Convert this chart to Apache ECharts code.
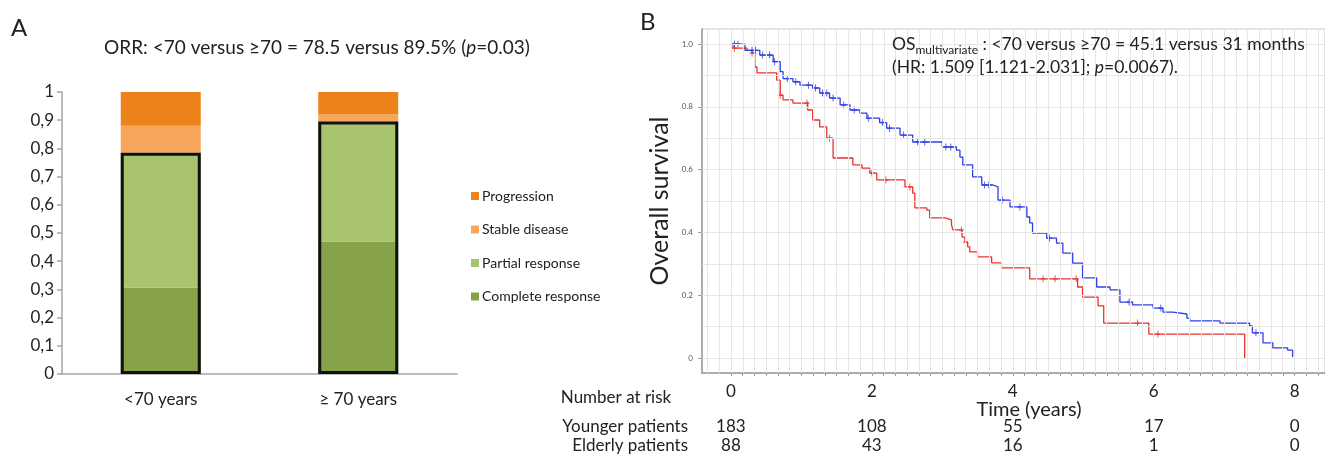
<!DOCTYPE html>
<html>
<head>
<meta charset="utf-8">
<script src="https://cdn.jsdelivr.net/npm/echarts@6/dist/echarts.min.js"></script>
<style>
html, body { margin: 0; padding: 0; background: #fff; }
#main { width: 1325px; height: 455px; }
</style>
</head>
<body>
<div id="main"></div>
<script>
const FONT = 'Lato';

// Panel A: response by age group (stacked proportions)
const groups = ['<70 years', '≥ 70 years'];
const complete = [0.307, 0.470];
const partial = [0.478, 0.425];
const stable = [0.095, 0.025];
const progression = [0.120, 0.080];

// Panel B: Kaplan-Meier overall survival (time in years)
const youngerT = [0, 0.2, 0.41, 0.6, 0.7, 0.74, 0.88, 0.98, 1.16, 1.26, 1.4, 1.55, 1.69, 1.83, 1.93, 2.11, 2.21, 2.4, 2.58, 3.0, 3.2, 3.25, 3.29, 3.43, 3.56, 3.72, 3.79, 3.96, 4.2, 4.24, 4.28, 4.48, 4.62, 4.71, 4.85, 4.99, 5.19, 5.38, 5.52, 5.7, 5.99, 6.13, 6.27, 6.47, 6.51, 6.94, 7.36, 7.4, 7.55, 7.69, 7.9, 7.97];
const youngerS = [1.0, 0.98, 0.965, 0.944, 0.912, 0.89, 0.88, 0.869, 0.86, 0.844, 0.828, 0.806, 0.79, 0.78, 0.764, 0.75, 0.732, 0.71, 0.688, 0.672, 0.662, 0.64, 0.615, 0.577, 0.551, 0.545, 0.503, 0.481, 0.449, 0.43, 0.398, 0.382, 0.366, 0.334, 0.302, 0.255, 0.226, 0.217, 0.178, 0.169, 0.159, 0.146, 0.14, 0.127, 0.118, 0.111, 0.102, 0.08, 0.048, 0.032, 0.025, 0.003];
const elderlyT = [0, 0.03, 0.23, 0.3, 0.34, 0.37, 0.65, 0.7, 0.74, 0.88, 1.09, 1.16, 1.26, 1.36, 1.45, 1.73, 1.86, 1.97, 2.07, 2.47, 2.58, 2.61, 2.78, 2.82, 3.04, 3.13, 3.15, 3.28, 3.32, 3.36, 3.39, 3.5, 3.7, 3.84, 4.24, 4.92, 4.99, 5.21, 5.29, 5.93, 7.29];
const elderlyS = [1.0, 0.987, 0.98, 0.971, 0.927, 0.908, 0.885, 0.837, 0.822, 0.812, 0.79, 0.758, 0.736, 0.70, 0.637, 0.615, 0.605, 0.589, 0.567, 0.545, 0.525, 0.478, 0.471, 0.446, 0.44, 0.424, 0.408, 0.385, 0.369, 0.354, 0.338, 0.322, 0.303, 0.287, 0.252, 0.226, 0.194, 0.166, 0.111, 0.076, 0.0];
const youngerCensor = [0.05, 0.1, 0.3, 0.35, 0.45, 0.55, 0.62, 0.8, 0.92, 1.1, 1.2, 1.3, 1.36, 1.45, 1.6, 1.75, 1.95, 2.15, 2.25, 2.45, 2.65, 2.75, 3.05, 3.12, 3.6, 3.66, 3.85, 4.1, 4.52, 5.65, 6.1, 7.45];
const elderlyCensor = [0.05, 0.3, 0.7, 1.08, 1.4, 2.0, 2.2, 2.54, 3.27, 3.33, 4.43, 4.6, 4.9, 5.77, 6.06];

// axis ticks and risk table
const yTicksB = [0, 0.2, 0.4, 0.6, 0.8, 1.0];
const xTicksB = [0, 2, 4, 6, 8];
const riskTimes = [0, 2, 4, 6, 8];
const youngerRisk = [183, 108, 55, 17, 0];
const elderlyRisk = [88, 43, 16, 1, 0];

const minorX = Array.from({ length: 51 }, (_, k) => k / 6);
const gridX = Array.from({ length: 53 }, (_, k) => (k - 2) / 6);
const gridY = Array.from({ length: 11 }, (_, k) => k / 10);

function pairs(ts, ss) { return ts.map((t, i) => [t, ss[i]]); }
function survAt(ts, ss, t) {
    let s = ss[0];
    for (let i = 0; i < ts.length; i++) if (ts[i] <= t) s = ss[i];
    return s;
}

const plus = 'path://M4,0H6V4H10V6H6V10H4V6H0V4H4Z';
const RED = '#e8332e';
const BLUE = '#2f3fe4';

const chart = echarts.init(document.getElementById('main'));

const barCommon = { type: 'bar', stack: 'resp', xAxisIndex: 0, yAxisIndex: 0, barWidth: 80, barGap: '-100%' };

chart.setOption({
    animation: false,
    textStyle: { fontFamily: FONT },
    grid: [
        { left: 62, top: 92, width: 395, height: 282 },
        { left: 702, top: 29, right: 0, bottom: 82, show: true, borderColor: '#c8c8c8', borderWidth: 1 }
    ],
    legend: {
        data: ['Progression', 'Stable disease', 'Partial response', 'Complete response'],
        orient: 'vertical', left: 466, top: 184, itemWidth: 8, itemHeight: 8, itemGap: 19.5, icon: 'rect',
        textStyle: { fontSize: 14, color: '#222', fontFamily: FONT, padding: [0, 0, 0, -2] }
    },
    xAxis: [
        {
            type: 'category', gridIndex: 0, data: groups,
            axisLine: { lineStyle: { color: '#a6a6a6', width: 1.5 } },
            axisTick: { length: 6, lineStyle: { color: '#a6a6a6', width: 1.5 } },
            axisLabel: { fontSize: 17, color: '#222', margin: 17, fontFamily: FONT }
        },
        {
            type: 'value', gridIndex: 1, min: -0.41, max: 8.43,
            axisLine: { onZero: false, lineStyle: { color: '#999', width: 1.5 } },
            axisTick: { customValues: minorX, length: 3, lineStyle: { color: '#999' } },
            axisLabel: { customValues: xTicksB, fontSize: 17, color: '#222', margin: 10, fontFamily: FONT },
            splitLine: { show: false }
        }
    ],
    yAxis: [
        {
            type: 'value', gridIndex: 0, min: 0, max: 1, interval: 0.1,
            axisLine: { show: true, lineStyle: { color: '#a6a6a6', width: 1.5 } },
            axisTick: { show: true, length: 5, lineStyle: { color: '#a6a6a6', width: 1.5 } },
            splitLine: { show: false },
            axisLabel: {
                fontSize: 17, color: '#222', margin: 8, fontFamily: FONT,
                formatter: v => String(+v.toFixed(1)).replace('.', ',')
            }
        },
        {
            type: 'value', gridIndex: 1, min: -0.048, max: 1.048,
            axisLine: { show: true, onZero: false, lineStyle: { color: '#999', width: 1.5 } },
            axisTick: { show: true, customValues: yTicksB, length: 4, lineStyle: { color: '#999' } },
            splitLine: { show: false },
            axisLabel: {
                customValues: yTicksB, fontSize: 8, color: '#555', margin: 9, fontFamily: FONT,
                formatter: v => (v === 0 ? '0' : v.toFixed(1))
            },
            name: 'Overall survival', nameLocation: 'middle', nameGap: 30,
            nameTextStyle: { fontSize: 25, color: '#222', fontFamily: FONT }
        }
    ],
    series: [
        Object.assign({ name: 'Complete response', data: complete, itemStyle: { color: '#87a34a' } }, barCommon),
        Object.assign({ name: 'Partial response', data: partial, itemStyle: { color: '#a9c46f' } }, barCommon),
        Object.assign({ name: 'Stable disease', data: stable, itemStyle: { color: '#f6a75b' } }, barCommon),
        Object.assign({ name: 'Progression', data: progression, itemStyle: { color: '#ec8219' } }, barCommon),
        {
            type: 'bar', name: 'ORR', xAxisIndex: 0, yAxisIndex: 0, barWidth: 80, barGap: '-100%', z: 5, silent: true,
            data: complete.map((c, i) => c + partial[i]),
            itemStyle: { color: 'rgba(0,0,0,0)', borderColor: '#111', borderWidth: 3 }
        },
        {
            type: 'line', xAxisIndex: 1, yAxisIndex: 1, data: [[0, 0]], symbol: 'none', silent: true,
            lineStyle: { opacity: 0 }, z: 1,
            markLine: {
                silent: true, symbol: ['none', 'none'], label: { show: false },
                lineStyle: { color: '#e6e6e6', width: 1, type: 'solid' },
                data: gridY.map(v => ({ yAxis: v })).concat(gridX.map(v => ({ xAxis: v })))
            }
        },
        {
            type: 'line', name: 'Elderly', xAxisIndex: 1, yAxisIndex: 1, step: 'end', symbol: 'none', z: 3,
            data: pairs(elderlyT, elderlyS), lineStyle: { color: RED, width: 1.3 }
        },
        {
            type: 'line', name: 'Younger', xAxisIndex: 1, yAxisIndex: 1, step: 'end', symbol: 'none', z: 4,
            data: pairs(youngerT, youngerS), lineStyle: { color: BLUE, width: 1.3 }
        },
        {
            type: 'scatter', xAxisIndex: 1, yAxisIndex: 1, symbol: plus, symbolSize: [5, 7], z: 3,
            data: elderlyCensor.map(t => [t, survAt(elderlyT, elderlyS, t)]), itemStyle: { color: RED }
        },
        {
            type: 'scatter', xAxisIndex: 1, yAxisIndex: 1, symbol: plus, symbolSize: [5, 7], z: 4,
            data: youngerCensor.map(t => [t, survAt(youngerT, youngerS, t)]), itemStyle: { color: BLUE }
        }
    ]
});

// texts, risk table placed from the survival x axis
const txt = (x, y, text, size, align, extra) => ({
    type: 'text', x: x, y: y, z: 100, silent: true,
    style: Object.assign({ text: text, fontSize: size, fontFamily: FONT, fill: '#222', align: align || 'left', verticalAlign: 'middle' }, extra || {})
});

const graphics = [
    txt(11, 28, 'A', 24),
    txt(640, 22, 'B', 24),
    txt(317, 48, '{n|ORR: <70 versus ≥70 = 78.5 versus 89.5% (}{i|p}{n|=0.03)}', 19, 'center', {
        rich: {
            n: { fontSize: 19, fontFamily: FONT, fill: '#222' },
            i: { fontSize: 19, fontFamily: FONT, fill: '#222', fontStyle: 'italic' }
        }
    }),
    txt(892, 56, '{a|OS}{s|multivariate}{a| : <70 versus ≥70 = 45.1 versus 31 months}\n{a|(HR: 1.509 [1.121-2.031]; }{i|p}{a|=0.0067).}', 17, 'left', {
        rich: {
            a: { fontSize: 17.5, lineHeight: 23, fontFamily: FONT, fill: '#222' },
            s: { fontSize: 12, lineHeight: 23, fontFamily: FONT, fill: '#222', verticalAlign: 'bottom' },
            i: { fontSize: 17.5, lineHeight: 23, fontFamily: FONT, fill: '#222', fontStyle: 'italic' }
        }
    }),
    txt(1029, 410, 'Time (years)', 20, 'center'),
    txt(616, 398, 'Number at risk', 17, 'center'),
    txt(688, 427, 'Younger patients', 17, 'right'),
    txt(688, 446, 'Elderly patients', 17, 'right')
];
riskTimes.forEach((t, i) => {
    const px = chart.convertToPixel({ xAxisIndex: 1 }, t);
    graphics.push(txt(px, 427, String(youngerRisk[i]), 17, 'center'));
    graphics.push(txt(px, 446, String(elderlyRisk[i]), 17, 'center'));
});
chart.setOption({ graphic: graphics });
</script>
</body>
</html>
